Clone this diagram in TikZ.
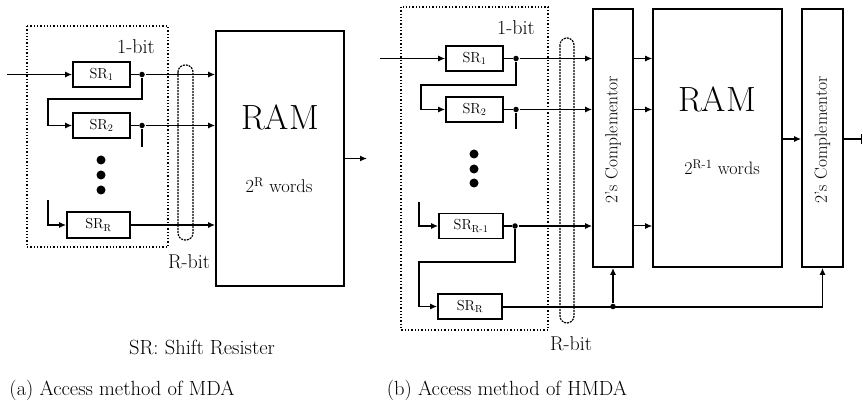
\documentclass[tikz,border=0pt]{standalone}
\usetikzlibrary{arrows.meta}
\begin{document}
\begin{tikzpicture}[x=1pt,y=-1pt,
  line width=1.5pt,
  arr/.style={-{Latex[length=7pt,width=6pt]}},
  srbox/.style={draw, line width=1.7pt, inner sep=0pt, font=\fontsize{14.5}{17}\selectfont},
  bigbox/.style={draw, line width=1.7pt, inner sep=0pt},
  dotbox/.style={draw, dotted, line width=1.3pt},
  stadium/.style={draw, dashed, dash pattern=on 2pt off 1pt, line width=1.2pt, rounded corners=7pt},
  lbl/.style={font=\fontsize{20}{23}\selectfont, inner sep=0pt},
  captext/.style={font=\fontsize{20.5}{24}\selectfont, inner sep=0pt},
  comptext/.style={font=\fontsize{17.5}{20}\selectfont, rotate=90, inner sep=0pt},
  jdot/.style={circle, fill, inner sep=0pt, minimum size=5.5pt},
  bigdot/.style={circle, fill, inner sep=0pt, minimum size=9pt}
]
\useasboundingbox (0,0) rectangle (863,409);

% ================= (a) MDA =================
\draw[dotbox] (27,26) rectangle (168,247);
\draw[stadium] (178,65) rectangle (193,240);
\node[lbl] (onebita) at (136,47) {1-bit};
\node[lbl] (rbita) at (189,262) {R-bit};

\node[srbox, minimum width=57pt, minimum height=25pt] (sr1a) at (101.5,74.5) {SR\textsubscript{1}};
\node[srbox, minimum width=57pt, minimum height=25pt] (sr2a) at (101.5,125.5) {SR\textsubscript{2}};
\node[srbox, minimum width=63pt, minimum height=26pt] (srRa) at (98.5,225) {SR\textsubscript{R}};
\node[bigbox, minimum width=128pt, minimum height=255pt] (rama) at (280,158.5) {};
\node[font=\fontsize{35}{40}\selectfont, inner sep=0pt] (ramta) at (280,117) {RAM};
\node[font=\fontsize{18.5}{22}\selectfont, inner sep=0pt] (wordsa) at (279,185) {2\textsuperscript{R} words};

\coordinate (ina) at (7,74.5);
\node[jdot] (d1a) at (142,74.5) {};
\node[jdot] (d2a) at (142,125.5) {};
\coordinate (fb1a) at (48,99);
\coordinate (stub2a) at (142,147);
\coordinate (fbRa) at (48,200);
\coordinate (outa) at (367,158.5);

\draw[arr] (ina) -- (sr1a.west);
\draw (sr1a.east) -- (d1a);
\draw[arr] (d1a) -- (d1a -| rama.west);
\draw[arr] (d1a) |- (fb1a) |- (sr2a.west);
\draw (sr2a.east) -- (d2a);
\draw[arr] (d2a) -- (d2a -| rama.west);
\draw (d2a) -- (stub2a);
\draw[arr] (fbRa) |- (srRa.west);
\draw[arr] (srRa.east) -- (srRa.east -| rama.west);
\draw[arr] (rama.east |- outa) -- (outa);

\node[bigdot] (e1a) at (101,160) {};
\node[bigdot] (e2a) at (101,175) {};
\node[bigdot] (e3a) at (101,190) {};

\node[captext] (legend) at (202,347) {SR: Shift Resister};
\node[captext] (capa) at (122,390) {(a) Access method of MDA};

% ================= (b) HMDA =================
\draw[dotbox] (401,7) rectangle (548,330);
\draw[stadium] (560,38) rectangle (574,323);
\node[lbl] (onebitb) at (516,28) {1-bit};
\node[lbl] (rbitb) at (571,344) {R-bit};

\node[srbox, minimum width=57pt, minimum height=25pt] (sr1b) at (474.5,58.5) {SR\textsubscript{1}};
\node[srbox, minimum width=57pt, minimum height=25pt] (sr2b) at (474.5,109.5) {SR\textsubscript{2}};
\node[srbox, minimum width=64pt, minimum height=25pt] (srR1b) at (471,226) {SR\textsubscript{R-1}};
\node[srbox, minimum width=64pt, minimum height=25pt] (srRb) at (470,306.5) {SR\textsubscript{R}};

\node[bigbox, minimum width=40pt, minimum height=258pt] (compl) at (613,138) {};
\node[comptext] (compltxt) at (613,140) {2's Complementor};
\node[bigbox, minimum width=129pt, minimum height=258pt] (ramb) at (717.5,138) {};
\node[font=\fontsize{35}{40}\selectfont, inner sep=0pt] (ramtb) at (717,99) {RAM};
\node[font=\fontsize{18}{21}\selectfont, inner sep=0pt] (wordsb) at (722,167) {2\textsuperscript{R-1} words};
\node[bigbox, minimum width=41pt, minimum height=258pt] (compr) at (822.5,138) {};
\node[comptext] (comprtxt) at (822.5,140) {2's Complementor};

\coordinate (inb) at (380,58.5);
\node[jdot] (d1b) at (516,58.5) {};
\node[jdot] (d2b) at (516,109.5) {};
\node[jdot] (d3b) at (515,226) {};
\node[jdot] (d4b) at (613,306.5) {};
\coordinate (fb1b) at (421,85);
\coordinate (stub2b) at (516,129);
\coordinate (fbR1b) at (419,202);
\coordinate (fbRb) at (419,262);
\coordinate (busend) at (822.5,306.5);
\coordinate (outb) at (862,139);

\draw[arr, line width=1pt] (inb) -- (sr1b.west);
\draw (sr1b.east) -- (d1b);
\draw[arr, line width=1pt] (d1b) -- (d1b -| compl.west);
\draw[arr] (d1b) |- (fb1b) |- (sr2b.west);
\draw (sr2b.east) -- (d2b);
\draw[arr] (d2b) -- (d2b -| compl.west);
\draw (d2b) -- (stub2b);
\draw[arr] (fbR1b) |- (srR1b.west);
\draw (srR1b.east) -- (d3b);
\draw[arr] (d3b) -- (d3b -| compl.west);
\draw[arr] (d3b) |- (fbRb) |- (srRb.west);
\draw[line width=2pt] (srRb.east) -- (busend);
\draw[arr] (busend) -- (compr.south);
\draw[arr] (d4b) -- (compl.south);

\draw[arr, line width=1pt] (compl.east |- d1b) -- (ramb.west |- d1b);
\draw[arr, line width=1pt] (compl.east |- d2b) -- (ramb.west |- d2b);
\draw[arr, line width=1pt] (compl.east |- d3b) -- (ramb.west |- d3b);
\draw[arr] (ramb.east |- outb) -- (compr.west |- outb);
\draw[-{Bar[width=10pt]}] (compr.east |- outb) -- (outb);

\node[bigdot] (e1b) at (474,154) {};
\node[bigdot] (e2b) at (474,169) {};
\node[bigdot] (e3b) at (474,183) {};

\node[captext] (capb) at (507,390) {(b) Access method of HMDA};
\end{tikzpicture}
\end{document}
